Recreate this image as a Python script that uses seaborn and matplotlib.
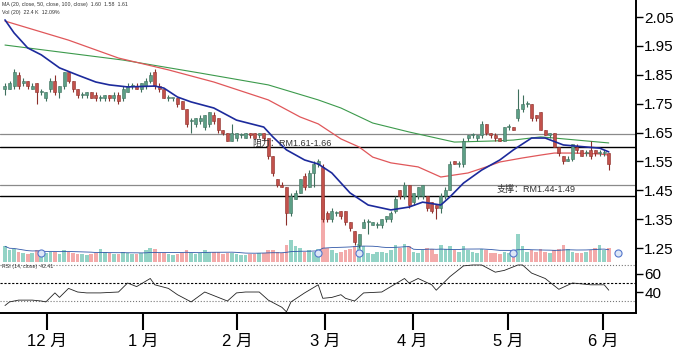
import numpy as np
import pandas as pd
import matplotlib
matplotlib.use('Agg')
import matplotlib.pyplot as plt
import seaborn as sns

# daily candles (RM), one per trading day, mid-Nov to early June
opens = [1.80, 1.80, 1.81, 1.85, 1.82, 1.83, 1.80, 1.82, 1.79, 1.77,
         1.80, 1.83, 1.79, 1.81, 1.86, 1.83, 1.80, 1.78, 1.78, 1.79,
         1.78, 1.77, 1.77, 1.78, 1.77, 1.78, 1.77, 1.79, 1.81, 1.81,
         1.80, 1.81, 1.83, 1.86, 1.81, 1.80, 1.77, 1.77, 1.77, 1.76,
         1.73, 1.69, 1.68, 1.69, 1.67, 1.68, 1.71, 1.70, 1.66, 1.65,
         1.62, 1.63, 1.64, 1.63, 1.65, 1.65, 1.64, 1.65, 1.63, 1.57,
         1.49, 1.47, 1.46, 1.37, 1.42, 1.44, 1.50, 1.46, 1.51, 1.54,
         1.53, 1.37, 1.35, 1.37, 1.38, 1.38, 1.34, 1.31, 1.26, 1.32,
         1.34, 1.33, 1.33, 1.33, 1.35, 1.35, 1.38, 1.45, 1.43, 1.47,
         1.41, 1.43, 1.43, 1.43, 1.41, 1.40, 1.39, 1.43, 1.45, 1.55,
         1.54, 1.54, 1.63, 1.64, 1.63, 1.64, 1.68, 1.65, 1.64, 1.63,
         1.62, 1.67, 1.67, 1.70, 1.73, 1.75, 1.75, 1.71, 1.72, 1.66,
         1.64, 1.65, 1.60, 1.57, 1.55, 1.56, 1.60, 1.59, 1.58, 1.59,
         1.59, 1.58, 1.58, 1.58]
highs = [1.82, 1.83, 1.87, 1.86, 1.84, 1.83, 1.82, 1.82, 1.80, 1.79,
         1.84, 1.85, 1.81, 1.86, 1.86, 1.83, 1.80, 1.79, 1.79, 1.79,
         1.79, 1.78, 1.78, 1.78, 1.79, 1.79, 1.81, 1.82, 1.82, 1.82,
         1.82, 1.84, 1.86, 1.87, 1.82, 1.80, 1.78, 1.77, 1.77, 1.76,
         1.73, 1.70, 1.70, 1.71, 1.71, 1.72, 1.72, 1.70, 1.66, 1.65,
         1.68, 1.65, 1.65, 1.65, 1.65, 1.65, 1.65, 1.65, 1.63, 1.57,
         1.49, 1.48, 1.46, 1.44, 1.45, 1.49, 1.51, 1.52, 1.55, 1.56,
         1.54, 1.38, 1.39, 1.38, 1.38, 1.38, 1.34, 1.31, 1.30, 1.35,
         1.35, 1.34, 1.34, 1.35, 1.36, 1.38, 1.43, 1.45, 1.48, 1.47,
         1.44, 1.46, 1.47, 1.43, 1.41, 1.40, 1.44, 1.46, 1.55, 1.55,
         1.55, 1.63, 1.64, 1.65, 1.64, 1.69, 1.68, 1.65, 1.65, 1.63,
         1.67, 1.68, 1.67, 1.80, 1.78, 1.76, 1.75, 1.71, 1.72, 1.66,
         1.65, 1.65, 1.60, 1.57, 1.57, 1.61, 1.61, 1.59, 1.59, 1.62,
         1.59, 1.59, 1.59, 1.58]
lows = [1.78, 1.80, 1.80, 1.80, 1.81, 1.80, 1.80, 1.75, 1.78, 1.76,
        1.79, 1.78, 1.77, 1.80, 1.82, 1.79, 1.77, 1.77, 1.77, 1.77,
        1.76, 1.76, 1.76, 1.76, 1.76, 1.75, 1.76, 1.79, 1.80, 1.80,
        1.79, 1.80, 1.82, 1.80, 1.79, 1.77, 1.76, 1.76, 1.74, 1.73,
        1.67, 1.65, 1.67, 1.68, 1.66, 1.67, 1.68, 1.65, 1.64, 1.62,
        1.62, 1.62, 1.63, 1.63, 1.63, 1.63, 1.63, 1.62, 1.56, 1.50,
        1.46, 1.46, 1.33, 1.36, 1.42, 1.44, 1.45, 1.46, 1.46, 1.53,
        1.34, 1.34, 1.34, 1.36, 1.35, 1.33, 1.31, 1.26, 1.25, 1.32,
        1.30, 1.33, 1.32, 1.32, 1.34, 1.34, 1.37, 1.42, 1.42, 1.39,
        1.40, 1.42, 1.42, 1.38, 1.37, 1.35, 1.37, 1.42, 1.45, 1.54,
        1.53, 1.53, 1.62, 1.63, 1.62, 1.63, 1.64, 1.63, 1.62, 1.62,
        1.62, 1.66, 1.66, 1.69, 1.72, 1.74, 1.69, 1.69, 1.66, 1.64,
        1.63, 1.60, 1.57, 1.54, 1.55, 1.55, 1.58, 1.57, 1.57, 1.56,
        1.57, 1.57, 1.57, 1.52]
closes = [1.81, 1.82, 1.86, 1.81, 1.83, 1.81, 1.81, 1.79, 1.79, 1.79,
          1.83, 1.79, 1.81, 1.86, 1.83, 1.80, 1.78, 1.78, 1.79, 1.77,
          1.77, 1.77, 1.78, 1.77, 1.78, 1.76, 1.80, 1.81, 1.81, 1.80,
          1.82, 1.83, 1.85, 1.81, 1.80, 1.77, 1.77, 1.77, 1.75, 1.73,
          1.68, 1.69, 1.70, 1.70, 1.71, 1.72, 1.69, 1.66, 1.65, 1.62,
          1.65, 1.65, 1.64, 1.65, 1.64, 1.63, 1.65, 1.63, 1.57, 1.51,
          1.47, 1.46, 1.37, 1.43, 1.44, 1.49, 1.46, 1.51, 1.54, 1.55,
          1.35, 1.35, 1.38, 1.37, 1.36, 1.34, 1.32, 1.27, 1.30, 1.34,
          1.34, 1.34, 1.33, 1.35, 1.36, 1.37, 1.42, 1.43, 1.47, 1.40,
          1.44, 1.46, 1.47, 1.39, 1.38, 1.39, 1.43, 1.45, 1.54, 1.54,
          1.54, 1.62, 1.64, 1.64, 1.64, 1.68, 1.65, 1.64, 1.63, 1.62,
          1.67, 1.67, 1.66, 1.73, 1.75, 1.75, 1.70, 1.70, 1.66, 1.64,
          1.65, 1.60, 1.58, 1.55, 1.56, 1.61, 1.59, 1.57, 1.58, 1.57,
          1.58, 1.58, 1.58, 1.54]
volumes = [6.0, 4.5, 5.0, 4.0, 3.5, 3.0, 3.5, 4.5, 3.0, 3.5,
           4.0, 4.0, 3.0, 4.5, 4.0, 3.5, 3.0, 3.0, 2.5, 3.0,
           3.5, 5.0, 4.0, 3.5, 3.0, 3.0, 4.0, 3.5, 3.0, 3.0,
           3.5, 4.5, 5.5, 5.0, 3.5, 3.5, 3.0, 2.5, 3.0, 3.5,
           4.5, 3.5, 3.0, 3.5, 4.5, 4.0, 4.0, 4.0, 3.0, 3.5,
           3.5, 3.0, 2.5, 2.5, 3.0, 3.0, 3.5, 3.5, 4.5, 4.5,
           4.0, 3.5, 6.5, 8.5, 6.0, 5.5, 4.0, 4.5, 4.0, 5.0,
           24.0, 5.5, 4.5, 3.5, 4.0, 4.5, 5.0, 6.0, 7.0, 6.0,
           3.5, 3.0, 4.0, 4.0, 3.5, 4.5, 6.5, 5.5, 7.0, 6.0,
           4.0, 3.5, 4.5, 5.5, 5.0, 3.0, 6.5, 5.0, 6.0, 4.5,
           4.0, 6.0, 4.5, 4.0, 3.5, 5.0, 4.5, 3.5, 3.5, 3.0,
           4.0, 3.5, 4.0, 10.5, 6.0, 4.0, 4.5, 4.0, 5.0, 4.0,
           3.5, 4.5, 5.0, 6.5, 5.0, 4.0, 3.5, 3.5, 4.0, 4.5,
           5.5, 6.5, 4.5, 5.5]

# moving averages (candle index, price)
ma20_idx = [0, 2, 5, 8, 12, 16, 20, 23, 27, 33, 35, 38, 41, 46, 51, 57, 59, 62, 66, 69,
            72, 76, 80, 85, 89, 92, 96, 98, 101, 105, 109, 112, 116, 119, 123, 128, 131, 133]
ma20_val = [2.040, 1.995, 1.943, 1.919, 1.874, 1.849, 1.825, 1.815, 1.808, 1.811, 1.804,
            1.773, 1.756, 1.735, 1.693, 1.669, 1.635, 1.590, 1.555, 1.541, 1.510, 1.441,
            1.399, 1.382, 1.392, 1.409, 1.399, 1.427, 1.475, 1.520, 1.555, 1.590, 1.631,
            1.631, 1.607, 1.600, 1.596, 1.583]
ma50_idx = [0, 14, 25, 36, 46, 58, 65, 69, 74, 78, 81, 85, 91, 96, 102, 106, 109, 114,
            118, 121, 125, 131, 133]
ma50_val = [2.036, 1.970, 1.908, 1.867, 1.825, 1.763, 1.704, 1.680, 1.628, 1.600, 1.565,
            1.545, 1.531, 1.496, 1.510, 1.531, 1.548, 1.562, 1.572, 1.579, 1.579, 1.576, 1.572]
ma100_idx = [0, 26, 43, 58, 69, 74, 81, 89, 95, 99, 108, 112, 118, 121, 128, 133]
ma100_val = [1.953, 1.901, 1.856, 1.815, 1.763, 1.735, 1.683, 1.652, 1.631, 1.617, 1.621,
             1.624, 1.635, 1.631, 1.621, 1.614]

# RSI(14)
rsi_idx = [0, 1, 3, 6, 8, 9, 11, 12, 14, 16, 18, 21, 25, 27, 29, 32, 33, 36, 38, 41,
           44, 47, 49, 51, 53, 56, 58, 61, 62, 63, 66, 69, 70, 72, 74, 75, 77, 79, 83, 85,
           88, 89, 91, 94, 95, 98, 101, 103, 105, 108, 110, 113, 114, 116, 119, 122, 125,
           129, 132, 133]
rsi_val = [25, 29, 31, 31, 30, 29, 39, 34, 44, 40, 39, 39, 40, 50, 46, 55, 48, 44, 37, 29,
           40, 34, 30, 39, 40, 40, 31, 23, 18, 29, 39, 48, 33, 34, 37, 33, 30, 39, 40, 46,
           55, 50, 55, 48, 42, 57, 69, 70, 70, 62, 64, 70, 70, 61, 55, 43, 50, 48, 48, 42]

month_pos = [9.25, 30.4, 51.1, 70.5, 89.8, 110.8, 131.7]
month_labels = ['12 月', '1 月', '2 月', '3 月', '4 月', '5 月', '6 月']
price_ticks = [1.25, 1.35, 1.45, 1.55, 1.65, 1.75, 1.85, 1.95, 2.05]
resist_lines = [1.645, 1.60]
support_lines = [1.47, 1.43]
event_idx = [8, 69, 78, 112, 135]

sns.set_theme(style='white')
plt.rcParams['font.family'] = ['Liberation Sans', 'Noto Sans CJK SC']

df = pd.DataFrame({'open': opens, 'high': highs, 'low': lows, 'close': closes, 'vol': volumes})
df['i'] = np.arange(len(df))
up = df['close'] >= df['open']

W, H = 681, 357
fig = plt.figure(figsize=(W / 100, H / 100), dpi=100)
ax = fig.add_axes([0, 1 - 262 / H, 636 / W, 262 / H])
rax = fig.add_axes([0, 1 - 313 / H, 636 / W, 51 / H])

# volume behind the price
vax = ax.twinx()
ax.set_zorder(vax.get_zorder() + 1)
ax.patch.set_visible(False)
vcol = np.where(up, '#93d3c6', '#f3aaaa')
vax.bar(df['i'], df['vol'], width=0.8, color=vcol, linewidth=0)
vol_ma = df['vol'].rolling(20, min_periods=1).mean()
sns.lineplot(x=df['i'], y=vol_ma, ax=vax, color='#3057a8', linewidth=0.6)
vax.set_ylim(0, 100)
vax.set_yticks([])
vax.set_ylabel('')
for s in vax.spines.values():
    s.set_visible(False)

# support / resistance
for y in resist_lines + support_lines:
    c = '#8a8a8a' if y in (resist_lines[0], support_lines[0]) else 'black'
    ax.axhline(y, color=c, linewidth=1.0 if c == 'black' else 0.9, zorder=1)

# candles
body_col = np.where(up, '#5c9f86', '#c2514b')
edge_col = np.where(up, '#3f6f5d', '#8c2f2a')
ax.vlines(df['i'], df['low'], df['high'], colors=edge_col, linewidth=0.8, zorder=3)
body_lo = np.minimum(df['open'], df['close'])
body_h = np.maximum((df['close'] - df['open']).abs(), 0.004)
ax.bar(df['i'], body_h, bottom=body_lo, width=0.66, color=body_col,
       edgecolor=edge_col, linewidth=0.4, zorder=4)

# moving averages
sns.lineplot(x=ma100_idx, y=ma100_val, ax=ax, color='#3c9a4c', linewidth=0.8, zorder=2)
sns.lineplot(x=ma50_idx, y=ma50_val, ax=ax, color='#e0575a', linewidth=0.9, zorder=2)
sns.lineplot(x=ma20_idx, y=ma20_val, ax=ax, color='#1c2a9c', linewidth=1.2, zorder=5)

ax.scatter(event_idx, [1.233] * len(event_idx), s=26, facecolor='#dde7f7',
           edgecolor='#5577cc', linewidth=0.8, zorder=6, clip_on=False)

ax.text(54.4, 1.612, '阻力：RM1.61-1.66', fontsize=6.5, va='center', color='#333333', zorder=6)
ax.text(108.3, 1.452, '支撑：RM1.44-1.49', fontsize=6.5, va='center', color='#333333', zorder=6)

ax.set_xlim(-1.1, 139)
ax.set_ylim(1.2017, 2.109)
ax.set_xticks([])
ax.yaxis.tick_right()
ax.set_yticks(price_ticks)
ax.set_yticklabels([f'{p:.2f}' for p in price_ticks])
ax.tick_params(axis='y', direction='out', length=5, width=1, labelsize=11, pad=1,
               right=True, left=False, colors='black')
ax.set_xlabel('')
ax.set_ylabel('')
for side in ['top', 'left', 'bottom']:
    ax.spines[side].set_visible(False)
ax.spines['right'].set_color('black')
ax.spines['right'].set_linewidth(1.4)

fig.text(0.003, 0.995, 'MA (20, close, 50, close, 100, close)  1.60  1.58  1.61',
         fontsize=3.8, va='top', color='#333333')
fig.text(0.003, 0.972, 'Vol (20)  22.4 K  12.09%', fontsize=3.8, va='top', color='#333333')

# RSI panel
for y, ls, c in [(70, ':', '#777777'), (50, (0, (2, 1.5)), 'black'), (30, ':', '#777777')]:
    rax.axhline(y, linestyle=ls, color=c, linewidth=0.8)
sns.lineplot(x=rsi_idx, y=rsi_val, ax=rax, color='#222222', linewidth=0.6)
rax.text(0.003, 0.97, 'RSI (14, close)  42.41', transform=rax.transAxes,
         fontsize=3.8, va='top', color='#333333')
rax.set_xlim(-1.1, 139)
rax.set_ylim(16.7, 73.3)
rax.yaxis.tick_right()
rax.set_yticks([40, 60])
rax.set_xticks(month_pos)
rax.set_xticklabels(month_labels)
rax.tick_params(axis='y', direction='out', length=5, width=1, labelsize=11, pad=1,
                right=True, left=False, colors='black')
rax.tick_params(axis='x', direction='out', length=12, width=1.5, labelsize=12, pad=3,
                bottom=True, colors='black')
rax.set_xlabel('')
rax.set_ylabel('')
for side in ['top', 'left']:
    rax.spines[side].set_visible(False)
for side in ['right', 'bottom']:
    rax.spines[side].set_color('black')
    rax.spines[side].set_linewidth(1.4)

fig.savefig('out.png', dpi=100)
